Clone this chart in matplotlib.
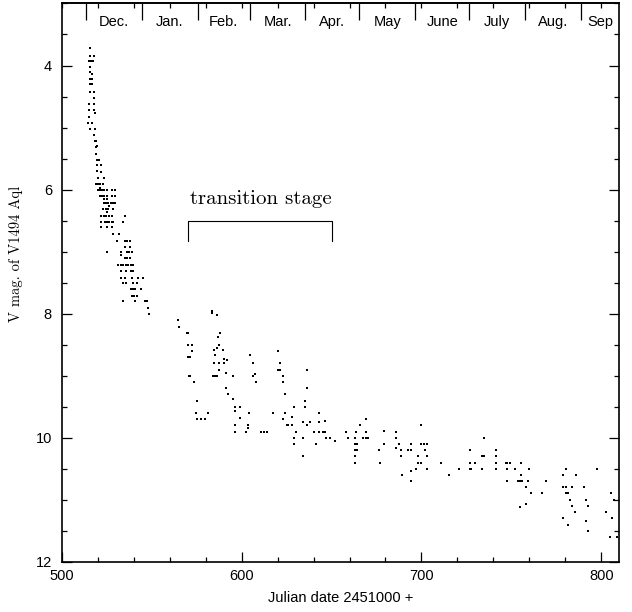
import matplotlib
matplotlib.use("Agg")
import matplotlib.pyplot as plt
from matplotlib.ticker import MultipleLocator, FixedLocator, NullFormatter
import matplotlib.transforms as mtransforms

# V-band light curve of Nova V1494 Aql (JD 2451000 +)
# early decline
jd_early = [515.7, 515.7, 517.9, 515.3, 516.5, 517.4, 515.7, 515.7, 516.8, 515.7, 516.6,
            515.7, 516.8, 515.7, 517.7, 517.7, 515.1, 517.7, 515.1, 517.9, 518.3, 515.1,
            514.6, 516.9, 515.5, 518.4, 518.0, 518.7, 519.3, 519.1, 519.6, 519.1, 519.5,
            521.0, 519.5, 521.6, 519.8, 522.0, 520.2, 523.5, 519.1, 520.3, 521.5, 522.7,
            521.3,
            520.2, 521.4, 522.6, 523.8, 525.0, 528.0, 529.4,
            521.3, 522.5, 523.7, 525.0, 528.0, 529.4,
            523.5, 525.2,
            523.3, 524.6, 525.9, 527.2, 528.5, 529.6,
            526.4,
            522.8, 524.6, 525.9, 528.7,
            525.3,
            521.7, 523.5, 524.9, 526.4, 527.8, 535.3,
            521.7, 523.9, 525.3, 526.5, 527.7, 528.7, 533.9,
            521.7, 525.0, 527.9,
            528.7, 531.7,
            530.6, 535.2, 536.5, 537.9,
            535.2, 537.9,
            525.3, 532.8, 536.1, 537.5, 538.9,
            532.8,
            535.2, 536.5, 537.9,
            531.4, 532.8, 534.2, 535.6, 537.0, 538.4, 539.8,
            532.8, 535.7, 538.3, 539.8,
            532.8, 535.2, 538.9, 542.6, 545.0,
            534.2, 535.7, 539.4, 542.0,
            538.3, 539.5, 540.7, 543.9,
            538.9, 540.3, 541.7,
            533.9, 540.6, 546.3, 547.6,
            547.8, 548.7]
mag_early = [3.71, 3.84, 3.84, 3.93, 3.93, 3.93, 4.03, 4.11, 4.14, 4.21, 4.21,
             4.30, 4.30, 4.42, 4.42, 4.52, 4.62, 4.62, 4.72, 4.72, 4.76, 4.83,
             4.92, 4.92, 5.03, 5.03, 5.12, 5.21, 5.21, 5.32, 5.30, 5.42, 5.52,
             5.52, 5.61, 5.61, 5.70, 5.71, 5.81, 5.81, 5.91, 5.91, 5.91, 5.91,
             5.98,
             6.01, 6.01, 6.01, 6.01, 6.01, 6.01, 6.01,
             6.11, 6.11, 6.11, 6.11, 6.11, 6.11,
             6.15, 6.15,
             6.21, 6.21, 6.21, 6.21, 6.21, 6.21,
             6.27,
             6.32, 6.32, 6.32, 6.32,
             6.36,
             6.42, 6.42, 6.42, 6.42, 6.42, 6.42,
             6.52, 6.52, 6.52, 6.52, 6.52, 6.52, 6.52,
             6.61, 6.61, 6.61,
             6.71, 6.71,
             6.83, 6.83, 6.83, 6.83,
             6.93, 6.93,
             7.01, 7.01, 7.01, 7.01, 7.01,
             7.05,
             7.11, 7.11, 7.11,
             7.21, 7.21, 7.21, 7.21, 7.21, 7.21, 7.21,
             7.32, 7.32, 7.32, 7.32,
             7.42, 7.42, 7.42, 7.42, 7.42,
             7.51, 7.51, 7.51, 7.51,
             7.61, 7.61, 7.61, 7.61,
             7.71, 7.71, 7.71,
             7.80, 7.80, 7.80, 7.80,
             7.91, 8.01]

# transition stage (oscillations)
jd_trans = [564.4, 565.0, 569.4, 570.3, 583.5, 583.5, 586.1, 587.8, 586.7,
            570.0, 572.2, 587.2, 584.4, 586.3, 589.4, 572.2, 585.0, 604.8, 620.0,
            570.0, 571.3, 590.2, 592.0, 584.4, 587.2, 590.0, 606.1, 621.1,
            620.2, 621.2, 636.1, 587.2, 591.1, 607.2, 606.1,
            570.5, 571.5, 583.9, 585.0, 586.1, 595.0, 623.1,
            573.3, 623.3, 607.8, 591.1, 636.1, 592.2, 623.9, 595.0, 575.0, 635.0,
            596.1, 598.9, 629.2, 635.0, 596.1,
            574.4, 581.1, 604.4, 617.2, 623.9, 643.3,
            575.0, 577.2, 579.4, 598.9, 623.1, 628.3, 646.1,
            634.4, 638.3, 643.3,
            596.1, 603.3, 603.3, 625.0, 626.0, 628.3, 636.1,
            596.1, 602.2, 611.0, 612.4, 613.9, 630.0, 640.0, 642.8, 645.0, 646.1,
            629.2, 633.9, 647.2, 648.9, 629.2, 641.1, 652.0, 633.9]
mag_trans = [8.11, 8.21, 8.31, 8.31, 7.96, 7.99, 8.02, 8.32, 8.38,
             8.51, 8.51, 8.51, 8.58, 8.56, 8.58, 8.61, 8.67, 8.67, 8.61,
             8.70, 8.70, 8.74, 8.75, 8.80, 8.80, 8.80, 8.80, 8.80,
             8.91, 8.91, 8.91, 8.91, 8.95, 8.98, 9.01,
             9.01, 9.01, 9.01, 9.01, 9.01, 9.01, 9.01,
             9.11, 9.11, 9.11, 9.20, 9.20, 9.30, 9.30, 9.38, 9.41, 9.41,
             9.51, 9.51, 9.51, 9.51, 9.57,
             9.60, 9.60, 9.60, 9.60, 9.60, 9.60,
             9.70, 9.70, 9.70, 9.68, 9.70, 9.67, 9.73,
             9.75, 9.75, 9.75,
             9.80, 9.80, 9.84, 9.80, 9.80, 9.80, 9.80,
             9.91, 9.91, 9.91, 9.91, 9.91, 9.91, 9.91, 9.91, 9.91, 9.91,
             10.01, 10.01, 10.01, 10.01, 10.10, 10.10, 10.05, 10.30]

# final decline
jd_late = [658.3, 663.5, 658.9, 663.0, 667.6, 669.0, 670.3, 666.1, 669.1, 669.1,
           663.0, 663.9, 663.0, 663.9, 663.0, 663.0,
           679.0, 679.0, 676.3, 677.2,
           686.1, 686.1, 687.6, 686.1, 688.7, 688.7,
           692.6, 693.9, 693.9, 688.9, 693.9, 693.9,
           696.8, 697.8, 697.8, 700.0,
           700.0, 700.0, 701.4, 702.8, 702.0, 702.8, 702.8,
           711.1, 715.3, 720.9,
           726.8, 727.8, 726.8, 730.0, 727.2,
           733.9, 733.9, 734.6, 734.8,
           741.7, 741.7, 741.7, 741.7,
           746.8, 747.8, 749.1, 747.8, 751.8, 747.8,
           755.6, 755.6, 753.7, 755.0, 756.1, 758.0,
           759.8, 759.4, 761.1, 766.8, 769.1, 755.0, 758.0,
           780.6, 778.7, 778.7, 780.2, 783.9, 785.7,
           780.2, 781.7, 782.8, 783.9, 785.2, 778.7, 781.7,
           790.6, 791.7, 792.8, 791.7, 792.8,
           797.8, 802.8, 805.6, 806.8, 806.1, 805.0, 808.7]
mag_late = [9.91, 9.91, 10.01, 10.01, 10.01, 10.01, 10.01, 9.79, 9.70, 9.91,
            10.10, 10.10, 10.20, 10.20, 10.30, 10.41,
            9.89, 10.10, 10.20, 10.41,
            9.91, 10.01, 10.10, 10.16, 10.20, 10.30,
            10.20, 10.20, 10.10, 10.60, 10.54, 10.70,
            10.50, 10.30, 10.41, 10.41,
            9.79, 10.10, 10.10, 10.10, 10.20, 10.30, 10.50,
            10.41, 10.60, 10.50,
            10.50, 10.50, 10.41, 10.41, 10.20,
            10.50, 10.30, 10.30, 10.01,
            10.20, 10.30, 10.41, 10.50,
            10.41, 10.41, 10.41, 10.50, 10.50, 10.70,
            10.41, 10.60, 10.70, 10.70, 10.70, 10.79,
            10.50, 10.70, 10.90, 10.90, 10.70, 11.12, 11.07,
            10.50, 10.60, 10.79, 10.79, 10.79, 10.60,
            10.90, 10.90, 11.00, 11.10, 11.20, 11.29, 11.41,
            10.79, 11.00, 11.10, 11.34, 11.50,
            10.50, 11.20, 10.90, 11.00, 11.29, 11.60, 11.60]

# calendar months (start of each month, JD 2451000 +)
month_starts = [513.5, 544.5, 575.5, 604.5, 635.5, 665.5, 696.5, 726.5, 757.5, 788.5]
month_names = ["Dec.", "Jan.", "Feb.", "Mar.", "Apr.", "May", "June", "July", "Aug.", "Sep"]

transition = (570, 650)

sans = "Liberation Sans"
serif = "cmr10"

fig = plt.figure(figsize=(6.32, 6.12), dpi=100)
ax = fig.add_axes([0.0976, 0.0822, 0.8824, 0.9121])

for jd, mag in [(jd_early, mag_early), (jd_trans, mag_trans), (jd_late, mag_late)]:
    ax.plot(jd, mag, "s", ms=1.8, mew=0, color="black")

ax.set_xlim(500, 810)
ax.set_ylim(12, 3.0)

ax.xaxis.set_major_locator(MultipleLocator(100))
ax.xaxis.set_minor_locator(MultipleLocator(20))
ax.yaxis.set_major_locator(MultipleLocator(2))
ax.yaxis.set_minor_locator(MultipleLocator(0.5))
ax.tick_params(which="both", direction="in", right=True, top=False,
               labelsize=10.5, width=0.9)
ax.tick_params(which="major", length=7)
ax.tick_params(which="minor", length=3.5)
ax.tick_params(axis="x", pad=5)
ax.tick_params(axis="y", pad=7)
for lab in ax.get_xticklabels() + ax.get_yticklabels():
    lab.set_fontfamily(sans)
for sp in ax.spines.values():
    sp.set_linewidth(1.2)

# top axis: 20-day ticks plus month boundaries
top = ax.secondary_xaxis("top")
top.xaxis.set_major_locator(FixedLocator(month_starts))
top.xaxis.set_minor_locator(MultipleLocator(20))
top.xaxis.set_major_formatter(NullFormatter())
top.tick_params(which="major", direction="in", length=12.5, width=0.9)
top.tick_params(which="minor", direction="in", length=3.8, width=0.9)
top.spines["top"].set_linewidth(1.2)

trans = mtransforms.blended_transform_factory(ax.transData, ax.transAxes)
edges = month_starts + [810]
for i, name in enumerate(month_names):
    xc = (edges[i] + edges[i + 1]) / 2
    ax.text(xc, 0.967, name, transform=trans, ha="center", va="center",
            fontsize=10.5, family=sans)

ax.set_xlabel("Julian date 2451000 +", fontsize=10.5, family=sans, labelpad=6)
fig.text(0.025, 1 - 254 / 612, "V mag. of V1494 Aql", rotation=90,
         ha="center", va="center", fontsize=10.5, family=serif)

# bracket marking the transition stage
x0, x1 = transition
ax.plot([x0, x0, x1, x1], [6.83, 6.5, 6.5, 6.83], color="black", lw=0.8)
ax.text((x0 + x1) / 2 + 0.8, 6.24, "transition stage", ha="center", va="baseline",
        fontsize=15, family=serif)

fig.savefig("out.png", dpi=100)
